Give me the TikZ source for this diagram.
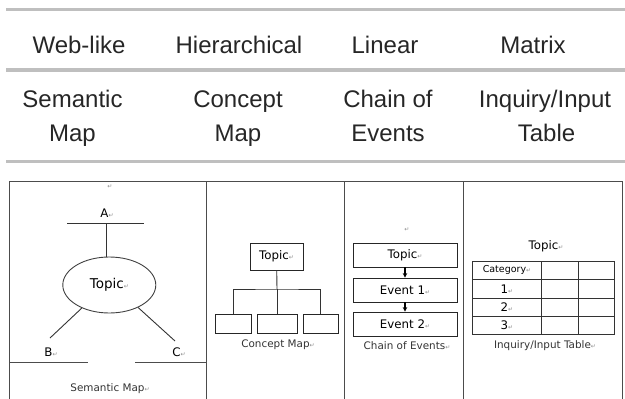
\documentclass[tikz,border=0pt]{standalone}
\usepackage{fontspec}
\setmainfont{DejaVu Sans}
\newfontfamily\hdfont{Liberation Sans}
\usepackage{xcolor}
\usepackage{tikz}
\usetikzlibrary{arrows.meta,positioning,shapes.geometric}
\newcommand{\ret}{{\fontsize{6}{6}\selectfont\textcolor{black!45}{↵}}}

\begin{document}
\begin{tikzpicture}[x=1pt,y=-1pt,
          hdr/.style={font=\hdfont\fontsize{24}{26}\selectfont,text=black!85,inner sep=0pt,anchor=base},
          rule/.style={line width=3.3pt,draw=black!25},
          frm/.style={line width=1pt,draw=black!70},
          link/.style={line width=0.9pt,draw=black!80},
          box/.style={draw=black!85,line width=0.9pt,rectangle,inner sep=0pt},
          oval/.style={draw=black!75,line width=0.9pt,ellipse,minimum width=93pt,minimum height=56pt,inner sep=0pt,font=\fontsize{13.5}{14}\selectfont},
          lbl/.style={font=\fontsize{11.8}{12}\selectfont,inner sep=0pt},
          capt/.style={font=\fontsize{10.4}{11}\selectfont,text=black!80,inner sep=0pt},
          small/.style={font=\fontsize{9.5}{10}\selectfont,inner sep=0pt},
          flow/.style={-{Stealth[length=4.5pt,width=4.5pt]},line width=1.2pt}]
        \useasboundingbox (0,0) rectangle (625,399);
        % header table
        \draw[rule] (6,9.5) -- (625,9.5);
        \draw[rule] (6,70) -- (625,70);
        \draw[rule] (6,161.5) -- (625,161.5);
        \node[hdr] (web)  at (79,53.5)  {Web-like};
        \node[hdr] (hier) at (239,53.5) {Hierarchical};
        \node[hdr] (lin)  at (385,53.5) {Linear};
        \node[hdr] (mat)  at (533,53.5) {Matrix};
        \node[hdr] (sem1) at (72.5,107.5) {Semantic};
        \node[hdr] (sem2) at (72.5,141.5) {Map};
        \node[hdr] (con1) at (238,107.5)  {Concept};
        \node[hdr] (con2) at (238,141.5)  {Map};
        \node[hdr] (cha1) at (388,107.5)  {Chain of};
        \node[hdr] (cha2) at (388,141.5)  {Events};
        \node[hdr] (inq1) at (545,107.5)  {Inquiry/Input};
        \node[hdr] (inq2) at (546.5,141.5) {Table};
        % screenshot frame
        \draw[frm] (9.5,399) -- (9.5,181) -- (622.5,181) -- (622.5,399);
        \draw[frm] (206.5,181) -- (206.5,399);
        \draw[frm] (344.5,181) -- (344.5,399);
        \draw[frm] (463,181) -- (463,399);
        % semantic map
        \node[small] (r1) at (110,187) {\ret};
        \node[lbl]  (a) at (107,213) {A\ret};
        \coordinate (abarl) at (67,223);
        \coordinate (abarr) at (144,223);
        \coordinate (ajoin) at (106,223);
        \node[oval] (topic) at (109.3,285) {Topic\ret};
        \coordinate (bend) at (50,338);
        \coordinate (cend) at (175,341);
        \node[lbl]  (b) at (51,352)  {B\ret};
        \node[lbl]  (c) at (179,352) {C\ret};
        \draw[link] (abarl) -- (abarr);
        \draw[link] (ajoin) -- (topic.north -| ajoin);
        \draw[link] (topic.220) -- (bend);
        \draw[link] (topic.322) -- (cend);
        \draw[frm] (9.5,362) -- (88,362);
        \draw[frm] (135,362) -- (206.5,362);
        \node[capt] (semcap) at (110,389) {Semantic Map\ret};
        % concept map
        \node[box,lbl,minimum width=53pt,minimum height=27pt] (ctop) at (276.5,256.5) {Topic\ret};
        \node[box,minimum width=36pt,minimum height=19pt] (c1) at (233,323.5) {};
        \node[box,minimum width=40pt,minimum height=19pt] (c2) at (277,323.5) {};
        \node[box,minimum width=35pt,minimum height=19pt] (c3) at (320.5,323.5) {};
        \coordinate (cbar) at (277,289);
        \draw[link] (ctop) -- (cbar);
        \draw[link] (c1.north) |- (cbar) -| (c3.north);
        \draw[link] (cbar) -- (c2);
        \node[capt] (concap) at (278,345) {Concept Map\ret};
        % chain of events
        \node[small] (r2) at (407,230) {\ret};
        \node[box,lbl,minimum width=104pt,minimum height=24pt] (e0) at (405,255) {Topic\ret};
        \node[box,lbl,minimum width=104pt,minimum height=24pt] (e1) at (405,290) {Event 1\ret};
        \node[box,lbl,minimum width=104pt,minimum height=24pt] (e2) at (405,324) {Event 2\ret};
        \draw[flow] (e0) -- (e1);
        \draw[flow] (e1) -- (e2);
        \node[capt] (chacap) at (407,346) {Chain of Events\ret};
        % inquiry table
        \node[lbl] (ttop) at (546,246) {Topic\ret};
        \draw[link] (472,261) rectangle (614,334);
        \foreach \y in {279,298,316}
          \draw[link] (472,\y) -- (614,\y);
        \draw[link] (541,261) -- (541,334);
        \draw[link] (578,261) -- (578,334);
        \node[small] (cat) at (507,270) {Category\ret};
        \node[lbl]   (t1)  at (507,289) {1\ret};
        \node[lbl]   (t2)  at (507,307) {2\ret};
        \node[lbl]   (t3)  at (507,325) {3\ret};
        \node[capt] (inqcap) at (545,346) {Inquiry/Input Table\ret};
      \end{tikzpicture}
\end{document}
